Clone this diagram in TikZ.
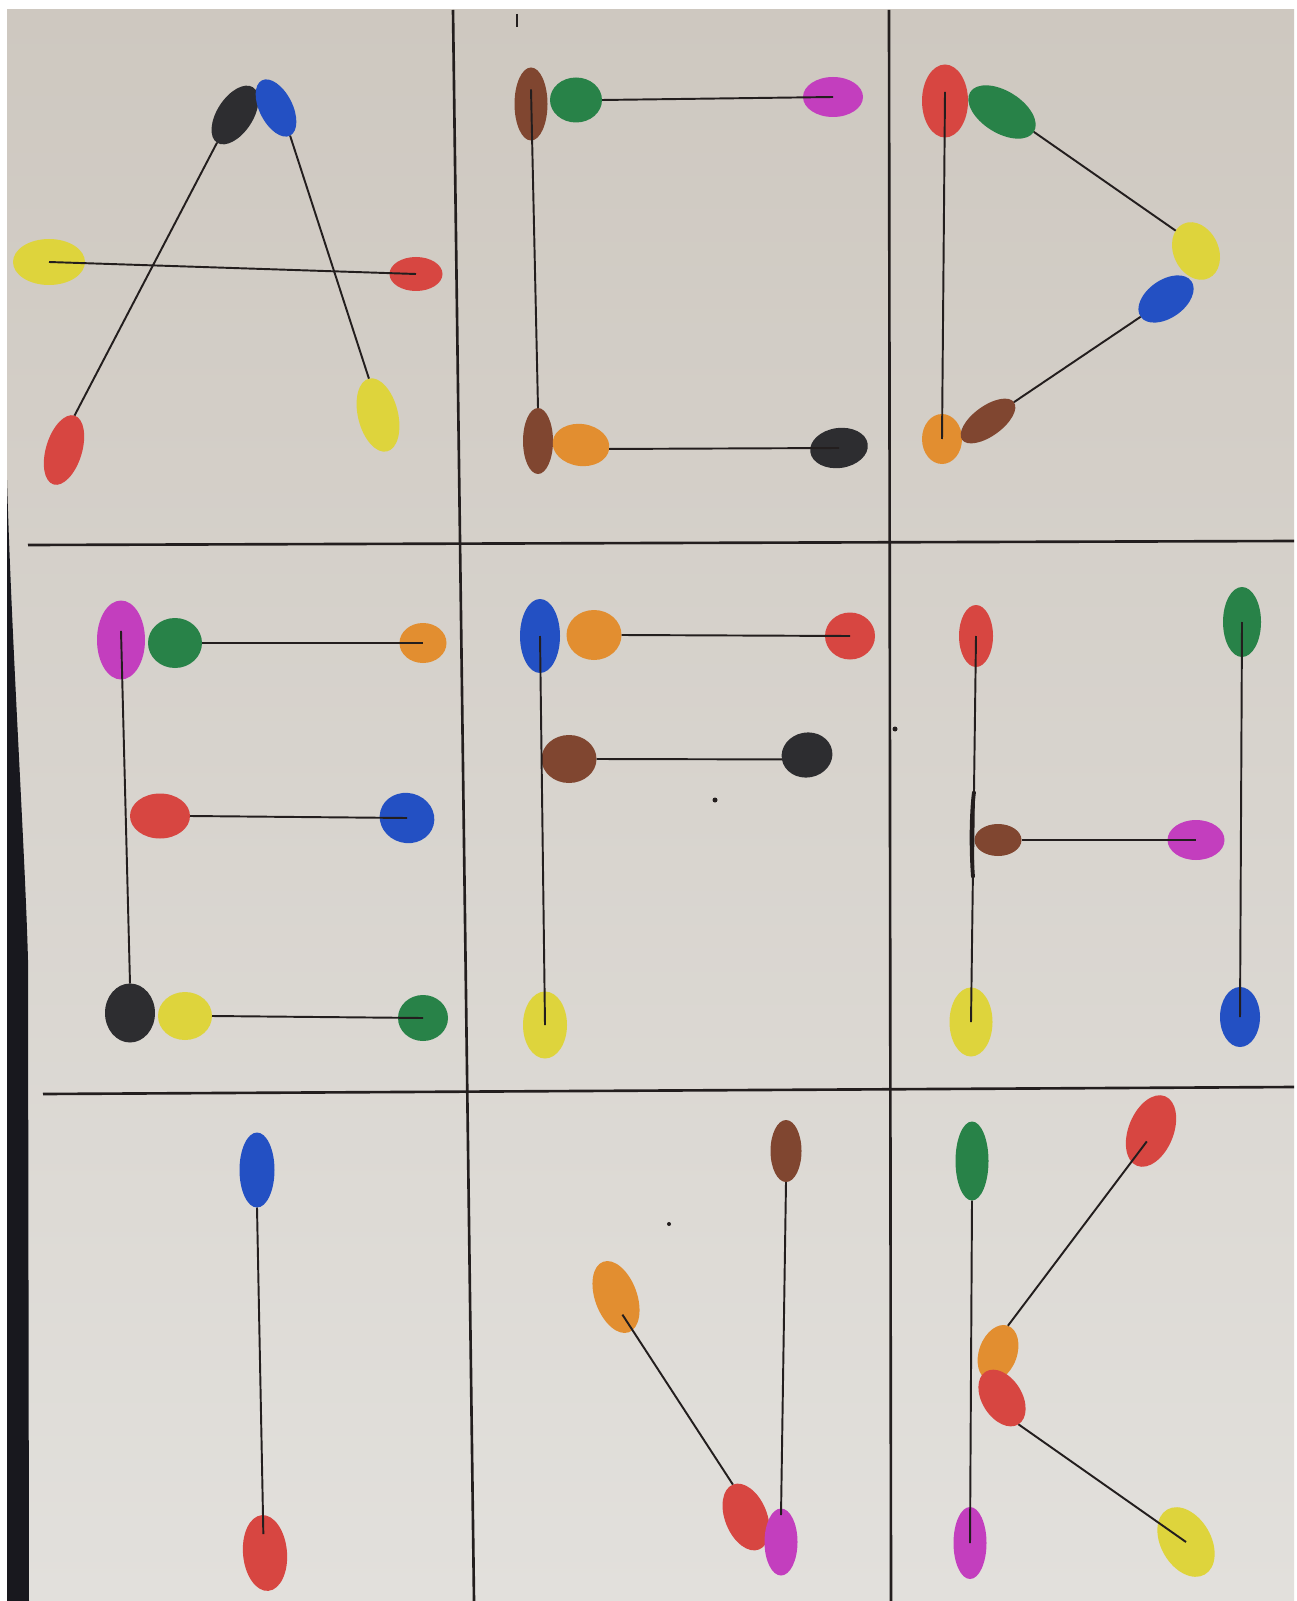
\documentclass[tikz,border=0pt]{standalone}
\usetikzlibrary{shapes.geometric,calc}

\definecolor{paperTop}{RGB}{206,200,192}
\definecolor{paperMid}{RGB}{218,215,209}
\definecolor{paperBot}{RGB}{226,224,220}
\definecolor{edgeDark}{RGB}{24,24,30}
\definecolor{inkLine}{RGB}{35,30,30}
\definecolor{dotBlack}{RGB}{45,45,48}
\definecolor{dotBlue}{RGB}{35,80,195}
\definecolor{dotYellow}{RGB}{222,212,60}
\definecolor{dotRed}{RGB}{215,70,65}
\definecolor{dotGreen}{RGB}{40,130,72}
\definecolor{dotOrange}{RGB}{226,142,48}
\definecolor{dotBrown}{RGB}{128,70,48}
\definecolor{dotMagenta}{RGB}{195,62,190}

\tikzset{
	blob/.style n args={4}{ellipse, inner sep=0pt, outer sep=0pt, fill=#1, minimum width=#2*0.02cm, minimum height=#3*0.02cm, rotate=#4},
	link/.style={draw=inkLine, line width=1.1pt},
	rule/.style={draw=inkLine, line width=1.5pt}
}

\begin{document}
\begin{tikzpicture}[x=0.02cm, y=-0.02cm]
	\useasboundingbox (0,0) rectangle (1296,1601);
	\fill[white] (0,0) rectangle (1296,1601);
	\shade[top color=paperTop, middle color=paperMid, bottom color=paperBot] (7,10) rectangle (1294,1601);
	\fill[edgeDark] (7,480) .. controls (12,650) and (25,850) .. (28,960) -- (29,1601) -- (7,1601) -- cycle;

	\draw[rule] (453,10) -- (474,1601);
	\draw[rule] (889,10) -- (891,1601);
	\draw[rule] (28,545) -- (1294,541);
	\draw[rule] (43,1094) -- (1294,1087);
	\draw[inkLine, line width=0.6pt] (517,14) -- (517,27);
	\fill[inkLine] (715,800) circle (2.5);
	\fill[inkLine] (895,729) circle (2.5);
	\fill[inkLine] (669,1224) circle (2);

	\node[blob={dotBlack}{36}{66}{-33}] (blackA) at (235,115) {};
	\node[blob={dotBlue}{33}{62}{27}] (blueA) at (276,108) {};
	\node[blob={dotYellow}{72}{46}{0}] (yellowA) at (49,262) {};
	\node[blob={dotRed}{53}{34}{0}] (redA) at (416,274) {};
	\node[blob={dotRed}{36}{72}{-17}] (redAl) at (64,450) {};
	\node[blob={dotYellow}{40}{75}{14}] (yellowAr) at (378,415) {};

	\node[blob={dotBrown}{33}{73}{0}] (brownCt) at (531,104) {};
	\node[blob={dotGreen}{52}{45}{0}] (greenC) at (576,100) {};
	\node[blob={dotMagenta}{60}{40}{0}] (magentaC) at (833,97) {};
	\node[blob={dotBrown}{30}{66}{0}] (brownCb) at (538,441) {};
	\node[blob={dotOrange}{57}{42}{-8}] (orangeC) at (581,445) {};
	\node[blob={dotBlack}{58}{40}{8}] (blackC) at (839,448) {};

	\node[blob={dotRed}{46}{73}{0}] (redD) at (945,101) {};
	\node[blob={dotGreen}{75}{42}{-32}] (greenD) at (1002,112) {};
	\node[blob={dotYellow}{45}{60}{25}] (yellowD) at (1196,251) {};
	\node[blob={dotBlue}{62}{38}{35}] (blueD) at (1166,299) {};
	\node[blob={dotOrange}{40}{50}{0}] (orangeD) at (942,439) {};
	\node[blob={dotBrown}{64}{30}{36}] (brownD) at (988,421) {};

	\node[blob={dotMagenta}{48}{79}{0}] (magentaE) at (121,640) {};
	\node[blob={dotGreen}{54}{50}{0}] (greenEt) at (175,643) {};
	\node[blob={dotOrange}{47}{40}{0}] (orangeE) at (423,643) {};
	\node[blob={dotRed}{60}{45}{0}] (redE) at (160,816) {};
	\node[blob={dotBlue}{55}{50}{-15}] (blueE) at (407,818) {};
	\node[blob={dotBlack}{50}{59}{0}] (blackE) at (130,1013) {};
	\node[blob={dotYellow}{54}{48}{0}] (yellowE) at (185,1016) {};
	\node[blob={dotGreen}{50}{46}{0}] (greenEb) at (423,1018) {};

	\node[blob={dotBlue}{40}{74}{0}] (blueF) at (540,636) {};
	\node[blob={dotOrange}{55}{50}{0}] (orangeF) at (594,635) {};
	\node[blob={dotRed}{50}{47}{0}] (redF) at (850,636) {};
	\node[blob={dotBrown}{55}{48}{0}] (brownF) at (569,759) {};
	\node[blob={dotBlack}{51}{45}{10}] (blackF) at (807,755) {};
	\node[blob={dotYellow}{44}{67}{0}] (yellowF) at (545,1025) {};

	\node[blob={dotRed}{34}{62}{0}] (redH) at (976,636) {};
	\node[blob={dotGreen}{38}{70}{0}] (greenH) at (1242,622) {};
	\node[blob={dotBrown}{47}{32}{0}] (brownH) at (998,840) {};
	\node[blob={dotMagenta}{57}{40}{0}] (magentaH) at (1196,840) {};
	\node[blob={dotYellow}{43}{69}{0}] (yellowH) at (971,1022) {};
	\node[blob={dotBlue}{40}{60}{0}] (blueH) at (1240,1017) {};

	\node[blob={dotBlue}{35}{75}{0}] (blueI) at (257,1170) {};
	\node[blob={dotRed}{44}{76}{5}] (redI) at (265,1553) {};

	\node[blob={dotBrown}{31}{62}{0}] (brownJ) at (786,1151) {};
	\node[blob={dotOrange}{42}{75}{20}] (orangeJ) at (616,1297) {};
	\node[blob={dotRed}{42}{70}{22}] (redJ) at (746,1517) {};
	\node[blob={dotMagenta}{33}{67}{0}] (magentaJ) at (781,1542) {};

	\node[blob={dotGreen}{33}{79}{0}] (greenK) at (972,1161) {};
	\node[blob={dotRed}{45}{75}{-22}] (redKt) at (1151,1131) {};
	\node[blob={dotOrange}{38}{58}{-20}] (orangeK) at (998,1353) {};
	\node[blob={dotRed}{40}{62}{32}] (redKb) at (1002,1398) {};
	\node[blob={dotMagenta}{33}{72}{0}] (magentaK) at (970,1543) {};
	\node[blob={dotYellow}{50}{75}{30}] (yellowK) at (1186,1542) {};

	\draw[link] (blackA.south) -- (redAl.north);
	\draw[link] (blueA.south) -- (yellowAr.north);
	\draw[link] (yellowA.center) -- (redA.center);

	\draw[link] (greenC.east) -- (magentaC.center);
	\draw[link] ($(brownCt.center)!.4!(brownCt.north)$) -- (brownCb.north);
	\draw[link] (orangeC.east) -- (blackC.center);

	\draw[link] ($(redD.center)!.25!(redD.north)$) -- (orangeD.center);
	\draw[link] (greenD.east) -- (yellowD.110);
	\draw[link] (blueD.west) -- (brownD.east);

	\draw[link] ($(magentaE.center)!.23!(magentaE.north)$) -- (blackE.north);
	\draw[link] (greenEt.east) -- (orangeE.center);
	\draw[link] (redE.east) -- (blueE.center);
	\draw[link] (yellowE.east) -- (greenEb.center);

	\draw[link] (blueF.center) -- (yellowF.center);
	\draw[link] (orangeF.east) -- (redF.center);
	\draw[link] (brownF.east) -- (blackF.west);

	\draw[link] (redH.center) -- (yellowH.center);
	\draw[link] (greenH.center) -- (blueH.center);
	\draw[link] (brownH.east) -- (magentaH.center);
	\draw[inkLine, line width=2.2pt, line cap=round] (974,792) .. controls (971,815) and (971,850) .. (973,877);

	\draw[link] (blueI.south) -- ($(redI.center)!.5!(redI.north)$);

	\draw[link] (brownJ.south) -- ($(magentaJ.center)!.8!(magentaJ.north)$);
	\draw[link] ($(orangeJ.center)!.5!(orangeJ.south)$) -- (redJ.north);

	\draw[link] (greenK.south) -- (magentaK.center);
	\draw[link] ($(redKt.center)!.3!(redKt.south)$) -- (orangeK.north);
	\draw[link] (redKb.south) -- (yellowK.center);
\end{tikzpicture}
\end{document}
